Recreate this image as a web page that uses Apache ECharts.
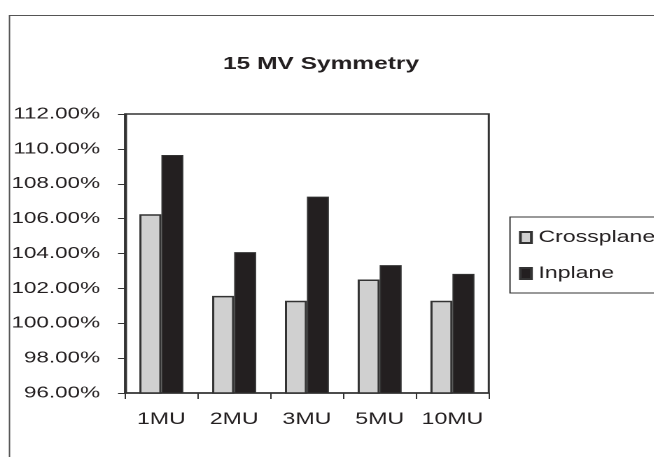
<!DOCTYPE html>
<html>
<head>
<meta charset="utf-8">
<script src="https://cdn.jsdelivr.net/npm/echarts@6/dist/echarts.min.js"></script>
<style>
html,body{margin:0;padding:0;background:#fff;overflow:hidden}
#wrap{width:654px;height:457px;overflow:hidden}
#c{width:467px;height:457px;transform:scaleX(1.4);transform-origin:0 0}
</style>
</head>
<body>
<div id="wrap"><div id="c"></div></div>
<script>
const categories = ['1MU', '2MU', '3MU', '5MU', '10MU'];
const crossplane = [106.25, 101.57, 101.29, 102.51, 101.29];
const inplane = [109.65, 104.08, 107.26, 103.33, 102.83];
const yMin = 96, yMax = 112, yStep = 2;

const S = 1.4; // horizontal stretch of the reference picture
const X = v => v / S;
const chart = echarts.init(document.getElementById('c'), null, {renderer: 'canvas', devicePixelRatio: 2});
const font = 'Liberation Sans, Arial, sans-serif';
chart.setOption({
  animation: false,
  backgroundColor: '#fff',
  graphic: [{
    type: 'rect', left: X(6), top: 13, silent: true,
    shape: {width: 600, height: 500},
    style: {fill: 'none', stroke: '#555', lineWidth: 1}
  }],
  title: {
    text: '15 MV Symmetry', left: X(314), top: 50, textAlign: 'center',
    textStyle: {fontFamily: font, fontSize: 17.5, fontWeight: 'bold', color: '#231f20'}
  },
  legend: {
    orient: 'vertical', left: X(510), top: 217,
    padding: [12, 200, 11, X(9)],
    itemGap: 19, itemWidth: X(11), itemHeight: 11,
    borderColor: '#333', borderWidth: 1,
    icon: 'rect',
    textStyle: {fontFamily: font, fontSize: 16.5, color: '#231f20', padding: [0, 0, 0, 0]},
    data: ['Crossplane', 'Inplane']
  },
  grid: {left: X(125), top: 114, right: X(165), bottom: 64, show: true, borderColor: '#333', borderWidth: 1.5},
  xAxis: {
    type: 'category', data: categories,
    axisLine: {lineStyle: {color: '#333', width: 1.5}},
    axisTick: {show: true, alignWithLabel: false, length: 6, lineStyle: {color: '#333'}},
    axisLabel: {interval: 0, fontFamily: font, fontSize: 16.5, color: '#231f20', margin: 18}
  },
  yAxis: {
    type: 'value', min: yMin, max: yMax, interval: yStep,
    splitLine: {show: false},
    axisLine: {show: true, lineStyle: {color: '#333', width: 1.5}},
    axisTick: {show: true, length: X(7), lineStyle: {color: '#333'}},
    axisLabel: {fontFamily: font, fontSize: 16, color: '#231f20', margin: X(25),
      formatter: v => v.toFixed(2) + '%'}
  },
  series: [
    {name: 'Crossplane', type: 'bar', data: crossplane, barWidth: X(22), barGap: '0%',
     itemStyle: {color: '#d0d0d0', borderColor: '#333', borderWidth: 1.5}},
    {name: 'Inplane', type: 'bar', data: inplane, barWidth: X(22),
     itemStyle: {color: '#231f20', borderColor: '#333', borderWidth: 1}}
  ]
});
</script>
</body>
</html>
